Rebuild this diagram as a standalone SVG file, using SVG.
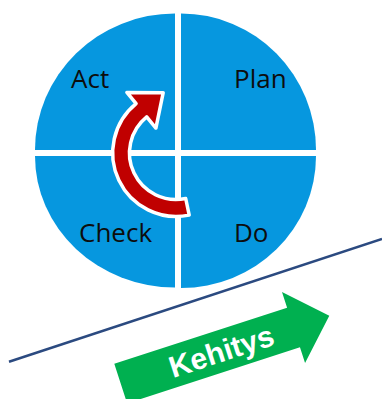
<svg xmlns="http://www.w3.org/2000/svg" width="382" height="399" viewBox="0 0 382 399">
  <style>
    .quad { fill: #0697DF; }
    .label { font-family: "Open Sans", "Noto Sans", sans-serif; font-size: 26px; fill: #0D0D0D; }
    .cycle { fill: #C00000; stroke: #FFFFFF; stroke-width: 3.5; stroke-linejoin: round; }
    .trend { stroke: #2B4A80; stroke-width: 2.5; fill: none; }
    .progress { fill: #00B050; }
    .progress-text { font-family: "Liberation Sans", Arial, sans-serif; font-weight: bold; font-size: 30px; fill: #FFFFFF; }
  </style>

  <rect width="382" height="399" fill="#FFFFFF"/>

  <!-- PDCA wheel: four quarters separated by white gaps -->
  <g id="act">
    <path class="quad" d="M175,150 L35,150 A140,136.5 0 0 1 175,13.5 Z"/>
    <text class="label" x="71" y="88">Act</text>
  </g>
  <g id="plan">
    <path class="quad" d="M181,150 L181,13.5 A135,136.5 0 0 1 316,150 Z"/>
    <text class="label" x="234" y="88">Plan</text>
  </g>
  <g id="do">
    <path class="quad" d="M181,156 L316,156 A135,132 0 0 1 181,288 Z"/>
    <text class="label" x="234" y="241.5">Do</text>
  </g>
  <g id="check">
    <path class="quad" d="M175,156 L175,287.5 A140,131.5 0 0 1 35,156 Z"/>
    <text class="label" x="79" y="241.5">Check</text>
  </g>

  <!-- cycle arrow and development trend -->
  <g id="connectors">
    <path id="cycle-arrow" class="cycle" d="M189.2,215.1 A63.5,63.5 0 0 1 136.1,103.7 L126.9,92.4 L163.2,92.7 L155.9,128.1 L146.7,116.9 A46.5,46.5 0 0 0 185.7,198.5 Z"/>
    <line id="trend-line" class="trend" x1="9" y1="361.7" x2="382" y2="239"/>
  </g>

  <!-- development arrow -->
  <g id="kehitys" transform="translate(282,292) rotate(-18)">
    <path class="progress" d="M-181.7,16.5 L0,16.5 L0,0 L37.6,37.3 L0,74.6 L0,58.1 L-181.7,58.1 Z"/>
    <text class="progress-text" x="-76" y="48" text-anchor="middle">Kehitys</text>
  </g>
</svg>
